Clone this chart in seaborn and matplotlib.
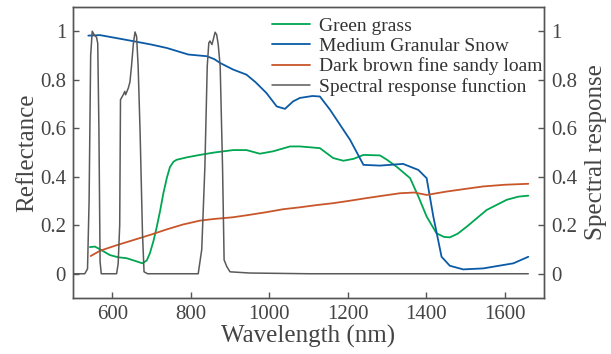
import numpy as np
import pandas as pd
import matplotlib
matplotlib.use("Agg")
import matplotlib.pyplot as plt
import seaborn as sns

# ---- data ----
grass_wl = [543, 556, 575, 594, 615, 637, 660, 677, 688, 696, 705, 713, 722, 730, 739, 747, 756, 764, 790, 823, 860, 908, 942,
            976, 1010, 1053, 1078, 1129, 1163, 1189, 1215, 1240, 1282, 1300, 1324, 1359, 1380, 1401, 1426, 1445, 1460,
            1480, 1503, 1554, 1605, 1635, 1660]
grass_ref = [0.11, 0.112, 0.095, 0.077, 0.068, 0.064, 0.052, 0.043, 0.055, 0.085, 0.135, 0.19, 0.26, 0.33, 0.395, 0.44, 0.462, 0.47,
             0.48, 0.49, 0.50, 0.51, 0.51, 0.495, 0.505, 0.525, 0.525, 0.518, 0.477, 0.466, 0.474, 0.49, 0.488, 0.47,
             0.442, 0.394, 0.318, 0.236, 0.167, 0.152, 0.150, 0.165, 0.194, 0.263, 0.305, 0.318, 0.322]

snow_wl = [539, 569, 610, 654, 700, 739, 794, 841, 860, 875, 908, 942, 965, 993, 1019, 1040, 1061, 1078, 1110, 1129, 1155,
           1206, 1240, 1282, 1341, 1380, 1401, 1418, 1439, 1460, 1494, 1545, 1622, 1660]
snow_ref = [0.982, 0.984, 0.972, 0.959, 0.945, 0.931, 0.904, 0.897, 0.885, 0.869, 0.842, 0.821, 0.79, 0.745, 0.69, 0.68,
            0.711, 0.725, 0.733, 0.731, 0.676, 0.552, 0.449, 0.446, 0.453, 0.428, 0.394, 0.236, 0.07, 0.033, 0.018,
            0.022, 0.043, 0.07]

loam_wl = [545, 569, 610, 654, 700, 739, 780, 823, 860, 908, 950, 993, 1035, 1078, 1120, 1163, 1205, 1248, 1290, 1333,
           1370, 1401, 1452, 1500, 1545, 1600, 1660]
loam_ref = [0.073, 0.095, 0.117, 0.139, 0.162, 0.183, 0.203, 0.219, 0.226, 0.233, 0.243, 0.254, 0.266, 0.274, 0.283, 0.291,
            0.301, 0.312, 0.322, 0.332, 0.335, 0.325, 0.339, 0.35, 0.36, 0.367, 0.371]

srf_wl = [500, 530, 537, 541, 545, 549, 554, 560, 563, 566, 569, 572, 600, 611, 615, 619, 621, 628, 632, 634, 641, 645,
          649, 654, 658, 662, 666, 671, 677, 681, 690, 780, 819, 828, 836, 842, 846, 849, 854, 858, 862, 866, 870, 875,
          881, 885, 892, 900, 950, 1100, 1300, 1660]
srf_val = [0, 0, 0.02, 0.3, 0.9, 1.0, 0.985, 0.975, 0.95, 0.6, 0.05, 0, 0, 0, 0.04, 0.2, 0.718, 0.738, 0.752, 0.738, 0.766,
           0.79, 0.855, 0.952, 0.997, 0.979, 0.855, 0.58, 0.167, 0.008, 0, 0, 0, 0.1, 0.44, 0.855, 0.952, 0.96, 0.945,
           0.97, 0.996, 0.986, 0.945, 0.855, 0.44, 0.057, 0.029, 0.008, 0.003, 0.0, 0.0, 0.0]

labels = ["Green grass", "Medium Granular Snow", "Dark brown fine sandy loam", "Spectral response function"]
colors = ["#00a651", "#0b5aa6", "#c8562a", "#5a5a5a"]
xticks = [600, 800, 1000, 1200, 1400, 1600]
yticks = [0, 0.2, 0.4, 0.6, 0.8, 1]
ytick_labels = ["0", "0.2", "0.4", "0.6", "0.8", "1"]

sns.set_theme(style="white")
plt.rcParams["font.family"] = ["Liberation Serif", "DejaVu Serif"]
tc = "#444444"
plt.rcParams.update({"text.color": tc, "axes.labelcolor": tc, "xtick.color": tc, "ytick.color": tc,
                     "axes.edgecolor": "#555555"})

fig = plt.figure(figsize=(6.11, 3.54), dpi=100)
ax = fig.add_axes([73 / 611, 1 - 298 / 354, (544 - 73) / 611, (298 - 7) / 354])
ax2 = ax.twinx()

df_g = pd.DataFrame({"wl": grass_wl, "v": grass_ref})
df_s = pd.DataFrame({"wl": snow_wl, "v": snow_ref})
df_l = pd.DataFrame({"wl": loam_wl, "v": loam_ref})
df_r = pd.DataFrame({"wl": srf_wl, "v": srf_val})

sns.lineplot(data=df_g, x="wl", y="v", ax=ax, color=colors[0], lw=1.3, label=labels[0], legend=False)
sns.lineplot(data=df_s, x="wl", y="v", ax=ax, color=colors[1], lw=1.3, label=labels[1], legend=False)
sns.lineplot(data=df_l, x="wl", y="v", ax=ax, color=colors[2], lw=1.3, label=labels[2], legend=False)
sns.lineplot(data=df_r, x="wl", y="v", ax=ax2, color=colors[3], lw=1.1, label=labels[3], legend=False)

for a in (ax, ax2):
    a.set_xlim(500, 1700)
    a.set_ylim(-0.1, 1.1)
    a.set_yticks(yticks)
    a.set_yticklabels(ytick_labels)
    for s in a.spines.values():
        s.set_color("#555555")
        s.set_linewidth(1.0)

ax.set_xticks(xticks)
ax.tick_params(axis="x", direction="in", length=4, width=1, labelsize=15, color="#555555", pad=5,
               bottom=True, top=False)
ax.tick_params(axis="y", direction="in", length=4, width=1, labelsize=15, color="#555555", pad=5,
               left=True, right=False)
ax2.tick_params(axis="y", direction="in", length=4, width=1, labelsize=15, color="#555555", pad=5,
                right=True, left=False)

ax.set_xlabel("Wavelength (nm)", fontsize=18, labelpad=1)
ax.set_ylabel("Reflectance", fontsize=18, labelpad=1)
ax2.set_ylabel("Spectral response", fontsize=18, labelpad=6)

h1, l1 = ax.get_legend_handles_labels()
h2, l2 = ax2.get_legend_handles_labels()
leg = ax2.legend(h1 + h2, l1 + l2, loc="upper right", bbox_to_anchor=(1.02, 1.0), frameon=False,
                 fontsize=14, handlelength=2.0, handletextpad=0.45, labelspacing=0.12, borderaxespad=0.15)
for t in leg.get_texts():
    t.set_color("#333333")

fig.savefig("out.png", dpi=100)
